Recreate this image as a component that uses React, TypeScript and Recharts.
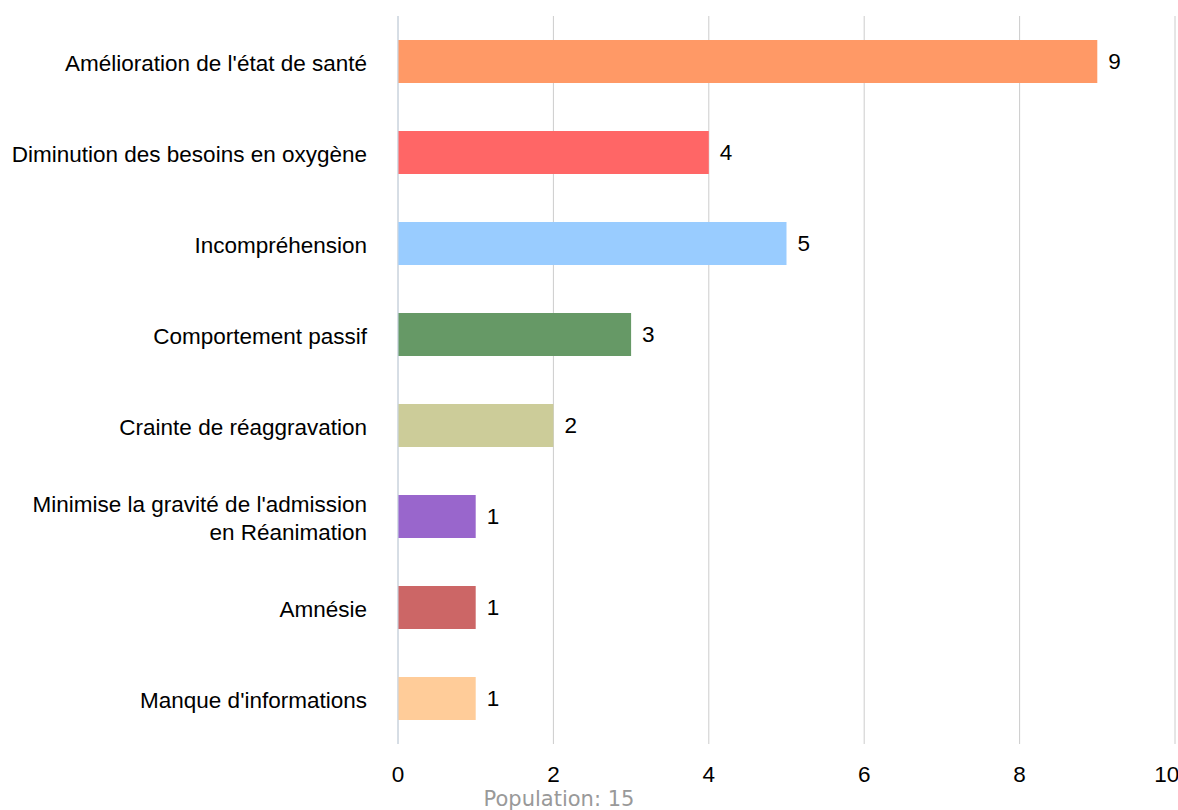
import React from 'react';
import { BarChart, Bar, XAxis, YAxis, CartesianGrid, Cell, LabelList } from 'recharts';

const categories = [
  "Amélioration de l'état de santé",
  'Diminution des besoins en oxygène',
  'Incompréhension',
  'Comportement passif',
  'Crainte de réaggravation',
  "Minimise la gravité de l'admission\nen Réanimation",
  'Amnésie',
  "Manque d'informations",
];
const counts = [9, 4, 5, 3, 2, 1, 1, 1];
const barColors = ['#ff9966', '#ff6666', '#99ccff', '#669966', '#cccc99', '#9966cc', '#cc6666', '#ffcc99'];
const xTicks = [0, 2, 4, 6, 8, 10];
const population = 15;

const data = categories.map((name, i) => ({ name, value: counts[i] }));

const FONT = '"Liberation Sans", Arial, Helvetica, sans-serif';

const CategoryTick = (props: any) => {
  const { x, y, payload } = props;
  const lines = String(payload.value).split('\n');
  return (
    <g>
      <text x={x} y={y} textAnchor="end" fontSize={22.5} fill="#000" fontFamily={FONT}>
        {lines.map((line, i) => (
          <tspan key={i} x={x} dy={i === 0 ? 9 - (lines.length - 1) * 14 : 28}>
            {line}
          </tspan>
        ))}
      </text>
    </g>
  );
};

const App: React.FC = () => {
  return (
    <div style={{ position: 'absolute', left: 0, top: 0, width: 1178, height: 810, background: '#fff' }}>
      <BarChart
        width={1178}
        height={810}
        data={data}
        layout="vertical"
        margin={{ top: 16, right: 3, left: 0, bottom: 0 }}
      >
        <CartesianGrid horizontal={false} stroke="#cccccc" />
        <XAxis
          type="number"
          domain={[0, 10]}
          ticks={xTicks}
          axisLine={false}
          tickLine={false}
          height={66}
          tickMargin={16}
          tick={{ fontSize: 22.5, fill: '#000', fontFamily: FONT }}
        />
        <YAxis
          type="category"
          dataKey="name"
          width={398}
          axisLine={{ stroke: '#c8d6e5' }}
          tickLine={false}
          tickMargin={25}
          interval={0}
          tick={<CategoryTick />}
        />
        <Bar dataKey="value" barSize={43} isAnimationActive={false}>
          {data.map((d, i) => (
            <Cell key={d.name} fill={barColors[i]} />
          ))}
          <LabelList dataKey="value" position="right" offset={11} fill="#000" fontSize={22.5} fontFamily={FONT} />
        </Bar>
      </BarChart>
      <div
        style={{
          position: 'absolute',
          left: 483,
          top: 789,
          width: 152,
          whiteSpace: 'nowrap',
          textAlign: 'center',
          fontFamily: '"DejaVu Sans", sans-serif',
          fontSize: 21,
          lineHeight: '20px',
          color: '#999',
        }}
      >
        Population: {population}
      </div>
    </div>
  );
};

export default App;
